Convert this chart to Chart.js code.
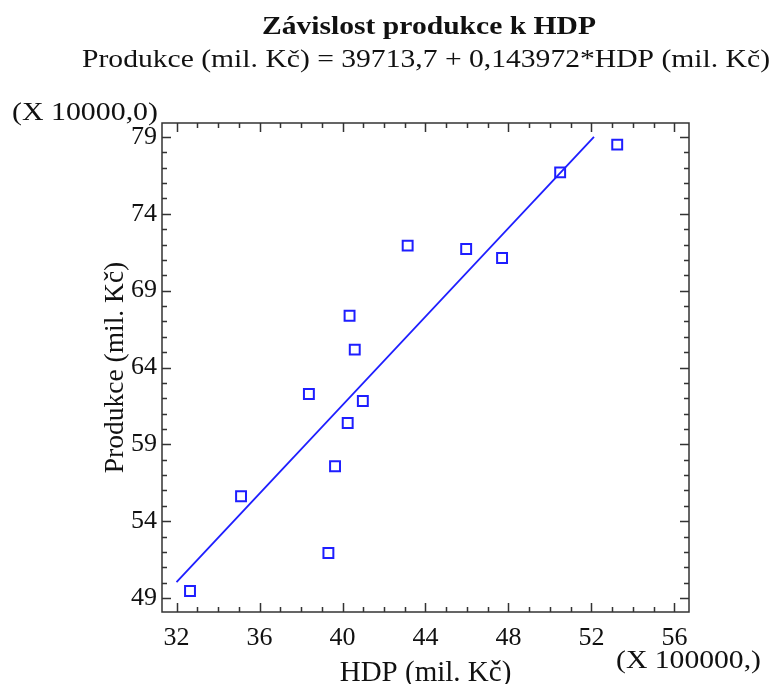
<!DOCTYPE html>
<html>
<head>
<meta charset="utf-8">
<script src="https://cdn.jsdelivr.net/npm/chart.js@4.4.0/dist/chart.umd.min.js"></script>
<style>
  html, body { margin: 0; padding: 0; background: #fff; }
  #wrap { width: 775px; height: 684px; position: relative; }
</style>
</head>
<body>
<div id="wrap"><canvas id="chart"></canvas></div>
<script>
// HDP in units of 100000 mil. Kč, Produkce in units of 10000 mil. Kč
const hdp = [32.65, 35.11, 39.32, 39.64, 38.38, 40.25, 40.98, 40.59, 40.34, 43.14, 45.96, 47.69, 50.49, 53.24];
const produkce = [49.46, 55.62, 51.93, 57.57, 62.28, 60.39, 61.82, 65.16, 67.37, 71.93, 71.71, 71.13, 76.70, 78.50];

// fitted line as drawn, it stops at the top of the plot
const fitX = [32, 52.12];
const fitY = [50.04, 79.0];

const xTicks = [32, 36, 40, 44, 48, 52, 56];
const yTicks = [49, 54, 59, 64, 69, 74, 79];

const titleText = "Závislost produkce k HDP";
const subtitleText = "Produkce (mil. Kč) = 39713,7 + 0,143972*HDP (mil. Kč)";

const BLUE = "rgb(30,30,255)";
const SERIF = "'Liberation Serif', 'Times New Roman', serif";

// draw text squeezed/stretched to a given width
function fitText(ctx, text, x, y, width, align) {
  const w = ctx.measureText(text).width;
  ctx.save();
  ctx.translate(x, y);
  ctx.scale(width / w, 1);
  ctx.textAlign = align;
  ctx.fillText(text, 0, 0);
  ctx.restore();
}

const bgPlugin = {
  id: "bg",
  beforeDraw(chart) {
    const ctx = chart.ctx;
    ctx.save();
    ctx.fillStyle = "#fff";
    ctx.fillRect(0, 0, chart.width, chart.height);
    ctx.restore();
  }
};

// box around the plot with inward ticks on all four sides
const framePlugin = {
  id: "frame",
  afterDatasetsDraw(chart) {
    const { ctx, chartArea: a, scales: { x, y } } = chart;
    ctx.save();
    ctx.strokeStyle = "#333";
    ctx.lineWidth = 1.5;
    ctx.strokeRect(a.left, a.top, a.right - a.left, a.bottom - a.top);
    ctx.beginPath();
    for (let v = Math.ceil(x.min); v <= x.max; v++) {
      const len = xTicks.includes(v) ? 9 : 5;
      const px = Math.round(x.getPixelForValue(v)) + 0.5;
      ctx.moveTo(px, a.bottom); ctx.lineTo(px, a.bottom - len);
      ctx.moveTo(px, a.top); ctx.lineTo(px, a.top + len);
    }
    for (let v = Math.ceil(y.min); v <= y.max; v++) {
      const len = yTicks.includes(v) ? 9 : 5;
      const py = Math.round(y.getPixelForValue(v)) + 0.5;
      ctx.moveTo(a.left, py); ctx.lineTo(a.left + len, py);
      ctx.moveTo(a.right, py); ctx.lineTo(a.right - len, py);
    }
    ctx.stroke();
    ctx.restore();
  }
};

const textPlugin = {
  id: "texts",
  afterDraw(chart) {
    const ctx = chart.ctx;
    ctx.save();
    ctx.fillStyle = "#111";
    ctx.textBaseline = "alphabetic";
    ctx.font = "bold 26px " + SERIF;
    fitText(ctx, titleText, 429, 34, 334, "center");
    ctx.font = "26px " + SERIF;
    fitText(ctx, subtitleText, 426, 67, 688, "center");
    fitText(ctx, "(X 10000,0)", 12, 120, 146, "left");
    fitText(ctx, "(X 100000,)", 616, 668, 145, "left");
    ctx.restore();
  }
};

new Chart(document.getElementById("chart"), {
  type: "scatter",
  data: {
    datasets: [
      {
        label: "Produkce",
        data: hdp.map((v, i) => ({ x: v, y: produkce[i] })),
        pointStyle: "rect",
        radius: 7,
        borderWidth: 2,
        borderColor: BLUE,
        backgroundColor: "rgba(0,0,0,0)"
      },
      {
        label: "Model",
        type: "line",
        data: fitX.map((v, i) => ({ x: v, y: fitY[i] })),
        borderColor: BLUE,
        borderWidth: 1.8,
        pointRadius: 0,
        fill: false
      }
    ]
  },
  options: {
    responsive: true,
    maintainAspectRatio: false,
    animation: false,
    layout: { padding: { top: 123, right: 86, left: 0, bottom: 0 } },
    plugins: {
      legend: { display: false },
      tooltip: { enabled: false }
    },
    scales: {
      x: {
        type: "linear",
        min: 31.3,
        max: 56.7,
        grid: { display: false, drawTicks: false },
        border: { display: false },
        afterBuildTicks: (s) => { s.ticks = xTicks.map(v => ({ value: v })); },
        afterFit: (s) => { s.height = 72; },
        ticks: {
          padding: 11,
          color: "#111",
          maxRotation: 0,
          font: { family: SERIF, size: 26 }
        },
        title: {
          display: true,
          text: "HDP (mil. Kč)",
          color: "#111",
          font: { family: SERIF, size: 29, lineHeight: 1 },
          padding: { top: 0, bottom: -4 }
        }
      },
      y: {
        type: "linear",
        min: 48.09,
        max: 79.91,
        grid: { display: false, drawTicks: false },
        border: { display: false },
        afterBuildTicks: (s) => { s.ticks = yTicks.map(v => ({ value: v })); },
        afterFit: (s) => { s.width = 162; },
        ticks: {
          padding: 5,
          color: "#111",
          font: { family: SERIF, size: 26 }
        },
        title: {
          display: true,
          text: "Produkce (mil. Kč)",
          color: "#111",
          font: { family: SERIF, size: 27.5, lineHeight: 1 },
          padding: { top: 102, bottom: 0 }
        }
      }
    }
  },
  plugins: [bgPlugin, framePlugin, textPlugin]
});
</script>
</body>
</html>
